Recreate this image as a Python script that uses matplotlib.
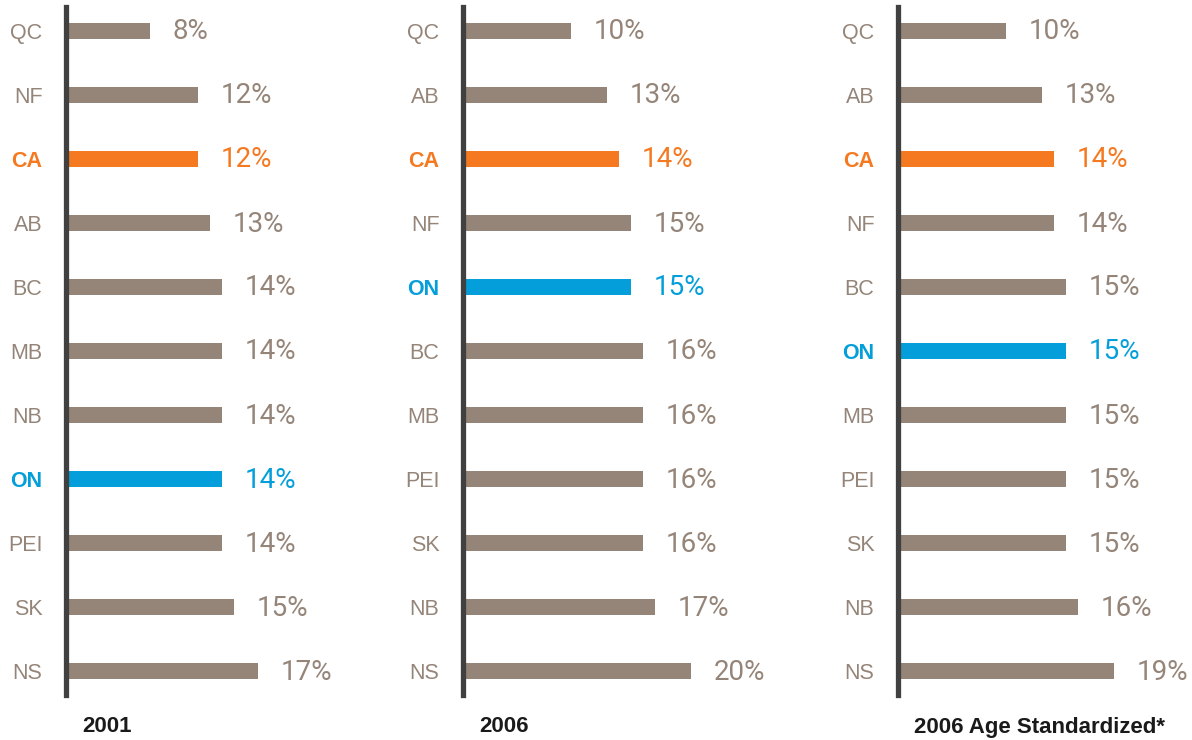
import matplotlib.pyplot as plt

# data
labels_2001 = ['QC', 'NF', 'CA', 'AB', 'BC', 'MB', 'NB', 'ON', 'PEI', 'SK', 'NS']
values_2001 = [8, 12, 12, 13, 14, 14, 14, 14, 14, 15, 17]

labels_2006 = ['QC', 'AB', 'CA', 'NF', 'ON', 'BC', 'MB', 'PEI', 'SK', 'NB', 'NS']
values_2006 = [10, 13, 14, 15, 15, 16, 16, 16, 16, 17, 20]

labels_std = ['QC', 'AB', 'CA', 'NF', 'BC', 'ON', 'MB', 'PEI', 'SK', 'NB', 'NS']
values_std = [10, 13, 14, 14, 15, 15, 15, 15, 15, 16, 19]

titles = ['2001', '2006', '2006 Age Standardized*']

gray = '#958579'
orange = '#f47920'
blue = '#049fdb'
axis_col = '#404040'

W, H = 1192, 740
fig = plt.figure(figsize=(W / 100, H / 100), dpi=100)

panels = [(labels_2001, values_2001), (labels_2006, values_2006), (labels_std, values_std)]
spine_x = [66, 463, 898]  # pixel position of each panel's vertical line


def colour_for(name):
    if name == 'CA':
        return orange
    if name == 'ON':
        return blue
    return gray


for p, (labels, values) in enumerate(panels):
    left = spine_x[p] / W
    bottom = (H - 695) / H
    height = 688 / H
    width = 24 * 12 / W
    ax = fig.add_axes([left, bottom, width, height])

    y = list(range(len(labels)))
    cols = [colour_for(n) for n in labels]
    ax.barh(y, values, height=0.25, color=cols, zorder=2)

    # value labels, narrow-ish font
    for yi, v, c in zip(y, values, cols):
        ax.annotate(f'{v}%', xy=(v, yi), xytext=(23, -1), textcoords='offset pixels',
                    ha='left', va='center', color=c, fontsize=20,
                    family=['Roboto', 'DejaVu Sans'], annotation_clip=False)

    ax.set_xlim(1, 25)
    ax.set_ylim(len(labels) - 1 + 0.375, -0.375)
    ax.set_yticks(y)
    ax.set_yticklabels(labels, family='Liberation Sans', fontsize=15.5)
    for lab, n in zip(ax.get_yticklabels(), labels):
        lab.set_color(colour_for(n))
        if n in ('CA', 'ON'):
            lab.set_fontweight('bold')
    ax.tick_params(axis='y', length=0, pad=17)
    ax.set_xticks([])
    for s in ['top', 'right', 'bottom']:
        ax.spines[s].set_visible(False)
    ax.spines['left'].set_color(axis_col)
    ax.spines['left'].set_linewidth(3.8)
    ax.spines['left'].set_zorder(3)
    ax.patch.set_visible(False)

    fig.text((spine_x[p] + 16) / W, (H - 727) / H, titles[p], ha='left', va='center',
             fontsize=16, fontweight='bold', family='Liberation Sans', color='#1a1a1a')

fig.savefig('out.png', dpi=100)
